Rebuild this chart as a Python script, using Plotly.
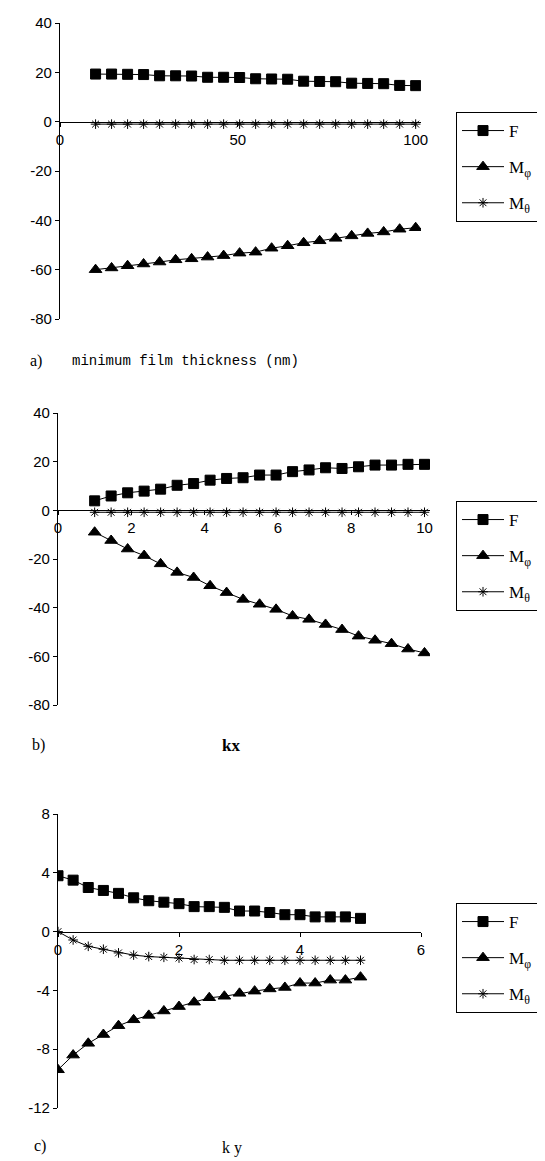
import plotly.graph_objects as go

# ---------------- data ----------------
# panel a: minimum film thickness (nm)
x_a = [10, 14.5, 19, 23.5, 28, 32.5, 37, 41.5, 46, 50.5, 55, 59.5, 64, 68.5, 73, 77.5, 82, 86.5, 91, 95.5, 100]
F_a = [19.3, 19.3, 19.2, 19.1, 18.6, 18.6, 18.5, 18.0, 18.0, 17.9, 17.4, 17.3, 17.2, 16.4, 16.3, 16.2, 15.6, 15.5, 15.4, 14.7, 14.6]
Mphi_a = [-60.0, -59.3, -58.4, -57.7, -56.9, -56.0, -55.6, -54.9, -54.3, -53.3, -52.9, -51.3, -50.3, -49.1, -48.3, -47.3, -46.3, -45.3, -44.7, -43.6, -43.0]
Mth_a = [-1.0, -1.0, -1.0, -1.0, -1.0, -1.0, -1.0, -1.0, -1.0, -1.0, -1.0, -1.0, -1.0, -1.0, -1.0, -1.0, -1.0, -1.0, -1.0, -1.0, -1.0]

# panel b: kx
x_b = [1, 1.45, 1.9, 2.35, 2.8, 3.25, 3.7, 4.15, 4.6, 5.05, 5.5, 5.95, 6.4, 6.85, 7.3, 7.75, 8.2, 8.65, 9.1, 9.55, 10]
F_b = [3.9, 5.9, 7.2, 7.9, 8.7, 10.3, 11.0, 12.4, 13.1, 13.4, 14.5, 14.5, 15.9, 16.6, 17.5, 17.2, 17.9, 18.6, 18.6, 18.9, 18.9]
Mphi_b = [-9.0, -12.4, -15.9, -18.6, -22.0, -25.5, -27.6, -31.0, -33.8, -36.6, -38.6, -40.7, -43.4, -44.8, -46.9, -49.0, -51.7, -53.4, -54.8, -57.0, -58.6]
Mth_b = [-0.8, -0.8, -0.8, -0.8, -0.8, -0.8, -0.8, -0.8, -0.8, -0.8, -0.8, -0.8, -0.8, -0.8, -0.8, -0.8, -0.8, -0.8, -0.8, -0.8, -0.8]

# panel c: ky
x_c = [0, 0.25, 0.5, 0.75, 1, 1.25, 1.5, 1.75, 2, 2.25, 2.5, 2.75, 3, 3.25, 3.5, 3.75, 4, 4.25, 4.5, 4.75, 5]
F_c = [3.8, 3.5, 3.0, 2.8, 2.6, 2.3, 2.1, 2.0, 1.9, 1.7, 1.7, 1.65, 1.4, 1.4, 1.3, 1.15, 1.15, 1.0, 1.0, 1.0, 0.9]
Mphi_c = [-9.4, -8.4, -7.6, -7.0, -6.4, -6.0, -5.7, -5.4, -5.1, -4.8, -4.5, -4.4, -4.2, -4.05, -3.9, -3.8, -3.5, -3.5, -3.3, -3.3, -3.1]
Mth_c = [0.0, -0.57, -1.0, -1.2, -1.45, -1.6, -1.7, -1.75, -1.8, -1.9, -1.9, -1.95, -1.95, -1.95, -1.95, -1.95, -1.95, -1.95, -1.95, -1.95, -1.95]

series_names = ["F", "M<sub>φ</sub>", "M<sub>θ</sub>"]

yticks_ab = [40, 20, 0, -20, -40, -60, -80]
yticks_c = [8, 4, 0, -4, -8, -12]
xticks_a = [0, 50, 100]
xticks_b = [0, 2, 4, 6, 8, 10]
xticks_c = [0, 2, 4, 6]

# ---------------- layout helpers ----------------
W, H = 545, 1161


def fx(px):
    return px / W


def fy(py):
    return 1 - py / H


panels = [
    dict(x=x_a, ys=[F_a, Mphi_a, Mth_a], xr=[0, 101.5], yr=[-80, 40], xd=[52, 413], yd=[15, 311],
         xt=xticks_a, yt=yticks_ab, leg_top=104),
    dict(x=x_b, ys=[F_b, Mphi_b, Mth_b], xr=[0, 10.15], yr=[-80, 40], xd=[50, 422], yd=[405, 697],
         xt=xticks_b, yt=yticks_ab, leg_top=493),
    dict(x=x_c, ys=[F_c, Mphi_c, Mth_c], xr=[0, 6], yr=[-12, 8], xd=[50, 413], yd=[806, 1100],
         xt=xticks_c, yt=yticks_c, leg_top=895),
]

symbols = ["square", "triangle-up", "asterisk-open"]
sizes = [10, 11, 8]
tickfont = dict(family="Liberation Sans Narrow, Liberation Sans, Arial", size=15, color="black")
legfont = dict(family="Liberation Serif, DejaVu Serif, serif", size=17, color="black")

fig = go.Figure()
layout = dict(
    width=W, height=H,
    margin=dict(l=0, r=0, t=0, b=0, autoexpand=False),
    paper_bgcolor="white", plot_bgcolor="white",
    showlegend=True,
)

for i, p in enumerate(panels):
    n = "" if i == 0 else str(i + 1)
    leg = "legend" if i == 0 else "legend" + str(i + 1)
    for j in range(3):
        fig.add_trace(go.Scatter(
            x=p["x"], y=p["ys"][j], name=series_names[j],
            mode="lines+markers",
            line=dict(color="black", width=1),
            marker=dict(symbol=symbols[j], size=sizes[j], color="black",
                        line=dict(color="black", width=1)),
            xaxis="x" + n, yaxis="y" + n, legend=leg, legendgroup=f"g{i}{j}",
        ))
    y0, y1 = fy(p["yd"][1]), fy(p["yd"][0])
    zero_pos = y0 + (0 - p["yr"][0]) / (p["yr"][1] - p["yr"][0]) * (y1 - y0)
    layout["xaxis" + n] = dict(
        domain=[fx(p["xd"][0]), fx(p["xd"][1])], range=p["xr"],
        anchor="free", position=zero_pos,
        showline=True, linecolor="black", linewidth=1.3,
        ticks="outside", ticklen=4, tickcolor="black",
        tickvals=p["xt"], ticktext=[str(v) for v in p["xt"]],
        tickfont=tickfont, showgrid=False, zeroline=False,
    )
    layout["yaxis" + n] = dict(
        domain=[y0, y1], range=p["yr"], anchor="x" + n,
        showline=True, linecolor="black", linewidth=1.3,
        ticks="outside", ticklen=4, tickcolor="black",
        tickvals=p["yt"], ticktext=[str(v) for v in p["yt"]],
        tickfont=tickfont, showgrid=False, zeroline=False,
    )
    layout[leg] = dict(
        x=fx(448), y=fy(p["leg_top"]), xanchor="left", yanchor="top",
        bordercolor="black", borderwidth=1, bgcolor="white",
        font=legfont, itemwidth=42, tracegroupgap=11,
    )

fig.update_layout(**layout)

ann = [
    dict(text="a)", x=fx(20), y=fy(353), font=dict(family="Liberation Serif", size=16)),
    dict(text="minimum film thickness (nm)", x=fx(62), y=fy(353),
         font=dict(family="Liberation Mono", size=14)),
    dict(text="b)", x=fx(22), y=fy(737), font=dict(family="Liberation Serif", size=16)),
    dict(text="<b>kx</b>", x=fx(212), y=fy(737), font=dict(family="Liberation Serif", size=17)),
    dict(text="c)", x=fx(24), y=fy(1138), font=dict(family="Liberation Serif", size=16)),
    dict(text="k y", x=fx(212), y=fy(1140), font=dict(family="Liberation Serif", size=16)),
]
for a in ann:
    a["font"]["color"] = "black"
    fig.add_annotation(xref="paper", yref="paper", xanchor="left", yanchor="middle",
                       showarrow=False, **a)

fig.write_html("out.html")
